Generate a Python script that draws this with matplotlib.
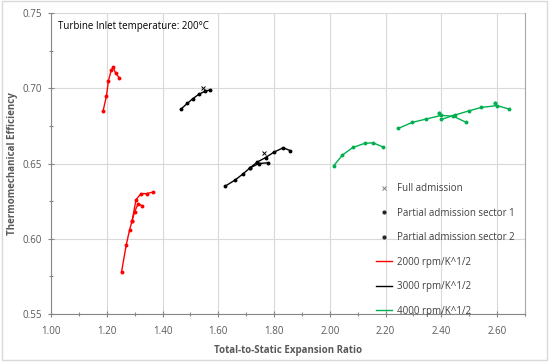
import matplotlib.pyplot as plt
from matplotlib.lines import Line2D
from matplotlib.patches import Rectangle
from matplotlib.ticker import MultipleLocator

plt.rcParams['font.family'] = ['Open Sans', 'DejaVu Sans']

# 2000 rpm/K^1/2
red_a_x = [1.187, 1.199, 1.206, 1.216, 1.223, 1.232, 1.245]
red_a_y = [0.685, 0.695, 0.705, 0.712, 0.714, 0.710, 0.707]
red_b_x = [1.253, 1.270, 1.282, 1.291, 1.305, 1.323, 1.343, 1.365]
red_b_y = [0.578, 0.596, 0.606, 0.612, 0.626, 0.630, 0.630, 0.631]
red_c_x = [1.291, 1.300, 1.312, 1.328]
red_c_y = [0.612, 0.618, 0.623, 0.622]

# 3000 rpm/K^1/2
blk_a_x = [1.465, 1.489, 1.508, 1.530, 1.552, 1.572]
blk_a_y = [0.686, 0.690, 0.693, 0.696, 0.698, 0.699]
blk_b_x = [1.625, 1.660, 1.688, 1.713, 1.740, 1.770, 1.799, 1.833, 1.859]
blk_b_y = [0.635, 0.639, 0.643, 0.647, 0.651, 0.654, 0.6575, 0.6605, 0.6585]
blk_c_x = [1.713, 1.745, 1.779]
blk_c_y = [0.647, 0.650, 0.6505]
blk_full_x = [1.546, 1.763]
blk_full_y = [0.700, 0.657]

# 4000 rpm/K^1/2
grn_a_x = [2.014, 2.045, 2.083, 2.125, 2.155, 2.191]
grn_a_y = [0.6485, 0.6556, 0.6607, 0.6634, 0.6638, 0.661]
grn_b_x = [2.245, 2.295, 2.344, 2.400, 2.442, 2.490]
grn_b_y = [0.6733, 0.6773, 0.6795, 0.682, 0.6815, 0.6773]
grn_c_x = [2.400, 2.448, 2.499, 2.544, 2.600, 2.643]
grn_c_y = [0.6793, 0.6822, 0.6850, 0.6873, 0.6885, 0.6862]
grn_full_x = [2.392, 2.594]
grn_full_y = [0.6837, 0.690]

speeds = ['2000 rpm/K^1/2', '3000 rpm/K^1/2', '4000 rpm/K^1/2']
colors = ['#ff0000', '#000000', '#00b050']

fig = plt.figure(figsize=(5.5, 3.63), dpi=100)
ax = fig.add_axes([0.0927, 0.135, 0.8618, 0.829])
fig.patches.append(Rectangle((0.004, 0.008), 0.99, 0.988, transform=fig.transFigure,
                             fill=False, edgecolor='#d9d9d9', lw=1))

curves = [
    (red_a_x, red_a_y, 0), (red_b_x, red_b_y, 0), (red_c_x, red_c_y, 0),
    (blk_a_x, blk_a_y, 1), (blk_b_x, blk_b_y, 1), (blk_c_x, blk_c_y, 1),
    (grn_a_x, grn_a_y, 2), (grn_b_x, grn_b_y, 2), (grn_c_x, grn_c_y, 2),
]
for x, y, i in curves:
    ax.plot(x, y, color=colors[i], lw=1.0, marker='o', ms=1.8, zorder=3)

ax.plot(blk_full_x, blk_full_y, ls='none', marker='x', ms=2.6, mew=0.7, color='#000000', zorder=4)
ax.plot(grn_full_x, grn_full_y, ls='none', marker='o', ms=2.0, color='#00b050', zorder=4)

ax.set_xlim(1.0, 2.7)
ax.set_ylim(0.55, 0.75)
ax.xaxis.set_major_locator(MultipleLocator(0.2))
ax.xaxis.set_minor_locator(MultipleLocator(0.1))
ax.yaxis.set_major_locator(MultipleLocator(0.05))
ax.yaxis.set_minor_locator(MultipleLocator(0.025))
ax.xaxis.set_major_formatter(lambda v, p: f'{v:.2f}' if v < 2.65 else '')
ax.yaxis.set_major_formatter(lambda v, p: f'{v:.2f}')
ax.grid(True, which='major', color='#d9d9d9', lw=0.8)
ax.set_axisbelow(True)
ax.tick_params(which='both', direction='inout', color='#868686', labelcolor='#595959',
               labelsize=7, width=0.8)
ax.tick_params(which='major', length=5)
ax.tick_params(which='minor', length=3)
ax.tick_params(axis='x', pad=6)
ax.tick_params(axis='y', pad=4)
for s in ['left', 'bottom']:
    ax.spines[s].set_color('#868686')
ax.spines['top'].set_visible(False)
ax.spines['right'].set_color('#a6a6a6')

ax.set_xlabel('Total-to-Static Expansion Ratio', fontsize=7, fontweight='bold',
              color='#595959', labelpad=6)
ax.set_ylabel('Thermomechanical Efficiency', fontsize=7, fontweight='bold',
              color='#595959', labelpad=3)
ax.text(0.015, 0.955, 'Turbine Inlet temperature: 200°C', transform=ax.transAxes,
        fontsize=7, color='#000000', va='center')

handles = [
    Line2D([], [], ls='none', marker='x', ms=2.6, mew=0.7, color='#7f7f7f'),
    Line2D([], [], ls='none', marker='o', ms=2.0, color='#262626'),
    Line2D([], [], ls='none', marker='o', ms=2.0, color='#262626'),
] + [Line2D([], [], color=c, lw=1.0) for c in colors]
labels = ['Full admission', 'Partial admission sector 1', 'Partial admission sector 2'] + speeds
leg = ax.legend(handles, labels, loc='upper left', bbox_to_anchor=(0.675, 0.508),
                bbox_transform=fig.transFigure, frameon=False, fontsize=7,
                labelspacing=1.38, handlelength=1.6, handletextpad=0.55, borderpad=0)
for t in leg.get_texts():
    t.set_color('#404040')

fig.savefig('out.png', dpi=100)
